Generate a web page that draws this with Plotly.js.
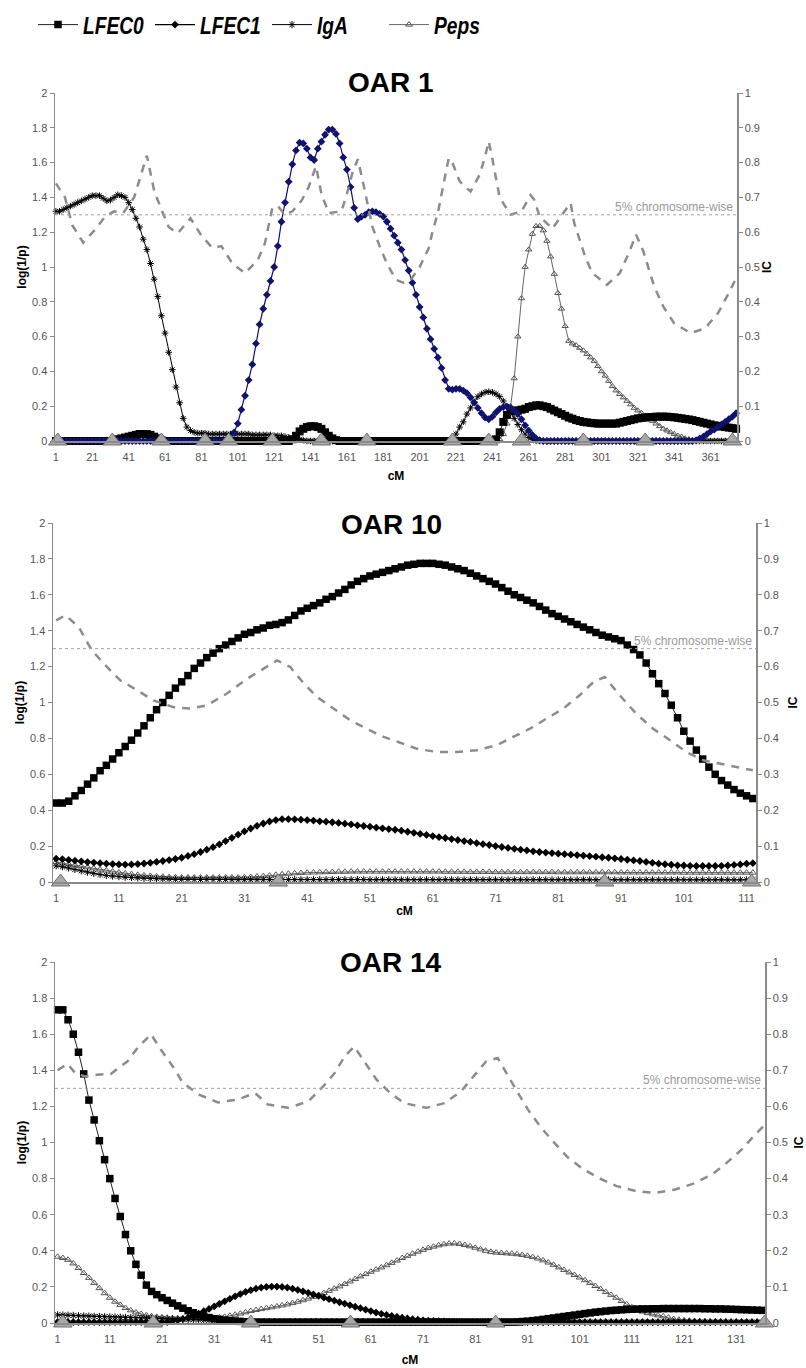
<!DOCTYPE html>
<html><head><meta charset="utf-8">
<script src="https://cdn.plot.ly/plotly-3.0.1.min.js"></script>
<style>
html,body{margin:0;padding:0;background:#fff}
#chart{width:806px;height:1368px}
#chart .legend .legendtext{transform-box:fill-box;transform-origin:0% 50%;transform:scaleX(0.8)}
</style>
</head><body><div id="chart"></div>
<script>
// ---------------- DATA ----------------
const SERIES = ['LFEC0','LFEC1','IgA','Peps'];
const PANEL_TITLES = ['OAR 1','OAR 10','OAR 14'];
const THRESHOLD = 1.3;
const THRESHOLD_LABEL = '5% chromosome-wise';
const MARKER_LEVEL = 0;

function range(a,b,s){const r=[];for(let v=a;v<=b+1e-9;v+=s)r.push(+v.toFixed(3));return r;}

// ---- OAR 1 (cM 1,3,...,375) ----
const P1_CM = range(1,375,2);
const P1_TICKS = range(1,361,20);
const P1_LFEC0 = [
0,0,0,0,0,0,0,0,0,0,
0,0,0,0,0,0,0.005,0.01,0.015,0.02,
0.025,0.03,0.035,0.04,0.04,0.04,0.035,0.025,0.015,0.005,
0,0,0,0,0,0,0,0,0,0,
0,0,0,0,0,0,0,0,0,0,
0,0,0,0,0,0,0,0,0,0,
0,0,0,0,0,0.01,0.03,0.055,0.07,0.08,
0.085,0.085,0.08,0.07,0.05,0.03,0.015,0.005,0,0,
0,0,0,0,0,0,0,0,0,0,
0,0,0,0,0,0,0,0,0,0,
0,0,0,0,0,0,0,0,0,0,
0,0,0,0,0,0,0,0,0,0,
0,0.01,0.05,0.11,0.15,0.17,0.175,0.175,0.18,0.185,
0.195,0.2,0.205,0.205,0.2,0.195,0.185,0.175,0.165,0.155,
0.145,0.135,0.128,0.12,0.115,0.11,0.107,0.104,0.102,0.1,
0.1,0.1,0.1,0.1,0.1,0.105,0.11,0.115,0.12,0.125,
0.13,0.133,0.135,0.137,0.138,0.14,0.14,0.14,0.14,0.138,
0.136,0.133,0.13,0.127,0.124,0.12,0.115,0.11,0.105,0.1,
0.095,0.09,0.087,0.083,0.08,0.077,0.074,0.07];
const P1_LFEC1 = [
0,0,0,0,0,0,0,0,0,0,
0,0,0,0,0,0,0,0,0,0,
0,0,0,0,0,0,0,0,0,0,
0,0,0,0,0,0,0,0,0,0,
0,0,0,0,0,0,0,0,0.01,0.05,
0.1,0.18,0.26,0.35,0.44,0.56,0.67,0.76,0.84,0.92,
1.0,1.12,1.26,1.37,1.49,1.59,1.67,1.715,1.71,1.68,
1.63,1.615,1.68,1.72,1.76,1.79,1.79,1.765,1.71,1.63,
1.56,1.46,1.34,1.275,1.29,1.3,1.315,1.32,1.315,1.305,
1.29,1.26,1.22,1.18,1.14,1.1,1.04,0.98,0.91,0.84,
0.77,0.71,0.645,0.585,0.53,0.48,0.42,0.35,0.3,0.295,
0.3,0.3,0.29,0.275,0.25,0.22,0.19,0.16,0.135,0.125,
0.14,0.165,0.185,0.195,0.197,0.19,0.175,0.155,0.125,0.09,
0.06,0.035,0.015,0.005,0,0,0,0,0,0,
0,0,0,0,0,0,0,0,0,0,
0,0,0,0,0,0,0,0,0,0,
0,0,0,0,0,0,0,0,0,0,
0,0,0,0,0,0,0.005,0.015,0.025,0.04,
0.055,0.065,0.08,0.095,0.11,0.125,0.14,0.16];
const P1_IGA = [
1.32,1.32,1.33,1.34,1.35,1.36,1.37,1.38,1.39,1.4,
1.41,1.41,1.41,1.395,1.38,1.385,1.4,1.415,1.41,1.4,
1.37,1.33,1.28,1.23,1.16,1.1,1.02,0.93,0.83,0.72,
0.62,0.51,0.41,0.31,0.22,0.13,0.08,0.06,0.05,0.045,
0.045,0.045,0.04,0.04,0.04,0.04,0.04,0.04,0.04,0.04,
0.04,0.04,0.04,0.04,0.035,0.035,0.035,0.035,0.035,0.035,
0.03,0.03,0.03,0.025,0.02,0.015,0.01,0.01,0.005,0,
0,0,0,0,0,0,0,0,0,0,
0,0,0,0,0,0,0,0,0,0,
0,0,0,0,0,0,0,0,0,0,
0,0,0,0,0,0,0,0,0,0.01,
0.04,0.08,0.11,0.155,0.19,0.225,0.255,0.27,0.28,0.283,
0.28,0.27,0.255,0.23,0.2,0.17,0.13,0.095,0.065,0.04,
0.02,0.01,0,0,0,0,0,0,0,0,
0,0,0,0,0,0,0,0,0,0,
0,0,0,0,0,0,0,0,0,0,
0,0,0,0,0,0,0,0,0,0,
0,0,0,0,0,0,0,0,0,0,
0,0,0,0,0,0,0,0];
const P1_PEPS = [
0,0,0,0,0,0,0,0,0,0,
0,0,0,0,0,0,0,0,0,0,
0,0,0,0,0,0,0,0,0,0,
0,0,0,0,0,0,0,0,0,0,
0,0,0,0,0,0,0,0,0,0,
0,0,0,0,0,0,0,0,0,0,
0,0,0,0,0,0,0,0,0,0,
0,0,0,0,0,0,0,0,0,0,
0,0,0,0,0,0,0,0,0,0,
0,0,0,0,0,0,0,0,0,0,
0,0,0,0,0,0,0,0,0,0,
0,0,0,0,0,0,0,0,0,0,
0,0,0.01,0.04,0.1,0.2,0.36,0.6,0.82,1.0,
1.1,1.19,1.235,1.235,1.21,1.15,1.06,0.96,0.85,0.76,
0.66,0.575,0.56,0.55,0.535,0.52,0.5,0.48,0.46,0.43,
0.4,0.375,0.345,0.315,0.29,0.27,0.25,0.23,0.21,0.19,
0.175,0.16,0.145,0.13,0.115,0.1,0.085,0.07,0.06,0.05,
0.04,0.03,0.025,0.015,0.01,0.005,0,0,0,0,
0,0,0,0,0,0,0,0];
const P1_IC_CM = [1,6,10,16,23,28,33,38,44,47,51,53,55,59,63,68,75,81,87,92,98,105,112,116,120,123,127,131,136,140,144,147,151,158,161,164,167,170,175,179,183,188,192,196,201,206,208,211,213,215,217,219,223,229,234,237,239,241,243,245,251,257,262,264,267,274,280,284,286,289,292,296,304,311,316,320,324,330,335,341,350,358,365,371,375];
const P1_IC = [0.74,0.7,0.62,0.57,0.61,0.645,0.66,0.655,0.7,0.75,0.82,0.77,0.72,0.665,0.615,0.597,0.64,0.59,0.555,0.56,0.51,0.482,0.52,0.57,0.67,0.675,0.65,0.66,0.69,0.73,0.79,0.71,0.655,0.66,0.71,0.77,0.81,0.74,0.616,0.56,0.51,0.463,0.455,0.463,0.5,0.554,0.6,0.655,0.71,0.765,0.813,0.8,0.746,0.717,0.765,0.818,0.861,0.81,0.755,0.7,0.65,0.66,0.707,0.693,0.645,0.61,0.655,0.684,0.626,0.578,0.53,0.482,0.449,0.482,0.54,0.593,0.545,0.444,0.386,0.338,0.31,0.324,0.367,0.425,0.468];
const P1_MARKERS = [2,32,59,83,96,120,147,172,219,239,257,291,325,373];

// ---- OAR 10 (cM 1..112) ----
const P2_CM = range(1,112,1);
const P2_TICKS = range(1,111,10);
const P2_LFEC0 = [
0.44,0.44,0.45,0.48,0.51,0.545,0.58,0.62,0.65,0.685,
0.72,0.755,0.79,0.83,0.87,0.915,0.96,1.0,1.04,1.08,
1.115,1.15,1.19,1.22,1.25,1.275,1.3,1.32,1.34,1.36,
1.38,1.39,1.405,1.415,1.43,1.435,1.445,1.46,1.485,1.51,
1.525,1.54,1.555,1.575,1.59,1.61,1.63,1.655,1.675,1.69,
1.705,1.715,1.725,1.735,1.745,1.755,1.765,1.77,1.775,1.775,
1.775,1.77,1.765,1.755,1.745,1.735,1.72,1.705,1.69,1.675,
1.66,1.64,1.62,1.6,1.585,1.57,1.555,1.535,1.515,1.495,
1.48,1.465,1.45,1.435,1.42,1.405,1.39,1.375,1.365,1.355,
1.345,1.32,1.295,1.265,1.22,1.16,1.105,1.05,0.985,0.915,
0.84,0.785,0.735,0.685,0.64,0.6,0.565,0.54,0.515,0.495,
0.48,0.465];
const P2_LFEC1 = [
0.13,0.127,0.123,0.119,0.115,0.111,0.108,0.105,0.102,0.1,
0.098,0.097,0.098,0.1,0.103,0.107,0.112,0.117,0.122,0.128,
0.135,0.145,0.155,0.167,0.18,0.194,0.21,0.228,0.246,0.264,
0.282,0.298,0.313,0.326,0.337,0.345,0.35,0.35,0.349,0.347,
0.345,0.342,0.338,0.336,0.333,0.329,0.325,0.321,0.316,0.312,
0.308,0.303,0.299,0.295,0.291,0.286,0.28,0.274,0.268,0.262,
0.256,0.25,0.245,0.239,0.234,0.228,0.223,0.217,0.211,0.206,
0.2,0.195,0.19,0.185,0.18,0.176,0.171,0.167,0.164,0.161,
0.158,0.155,0.152,0.15,0.147,0.144,0.141,0.138,0.135,0.132,
0.128,0.124,0.12,0.117,0.112,0.107,0.102,0.099,0.096,0.093,
0.092,0.09,0.089,0.089,0.089,0.089,0.09,0.092,0.095,0.098,
0.102,0.105];
const P2_IGA = [
0.09,0.085,0.078,0.07,0.062,0.055,0.048,0.042,0.037,0.033,
0.03,0.027,0.025,0.023,0.021,0.02,0.018,0.017,0.016,0.015,
0.015,0.015,0.014,0.014,0.014,0.014,0.014,0.014,0.013,0.013,
0.013,0.013,0.013,0.013,0.013,0.013,0.013,0.013,0.013,0.013,
0.013,0.013,0.013,0.013,0.013,0.013,0.013,0.013,0.013,0.013,
0.012,0.012,0.012,0.012,0.012,0.012,0.012,0.012,0.012,0.012,
0.012,0.012,0.012,0.012,0.012,0.012,0.012,0.012,0.012,0.012,
0.012,0.012,0.012,0.012,0.012,0.012,0.012,0.012,0.012,0.012,
0.012,0.012,0.012,0.012,0.012,0.012,0.012,0.012,0.012,0.012,
0.012,0.012,0.012,0.012,0.012,0.012,0.012,0.012,0.012,0.012,
0.012,0.012,0.012,0.012,0.012,0.012,0.012,0.012,0.012,0.012,
0.012,0.012];
const P2_PEPS = [
0.11,0.105,0.1,0.094,0.088,0.082,0.076,0.07,0.064,0.058,
0.053,0.048,0.044,0.04,0.037,0.034,0.031,0.029,0.027,0.026,
0.025,0.025,0.025,0.025,0.025,0.025,0.025,0.025,0.025,0.025,
0.026,0.028,0.03,0.033,0.036,0.04,0.043,0.046,0.048,0.05,
0.052,0.053,0.054,0.055,0.056,0.057,0.057,0.058,0.058,0.058,
0.058,0.058,0.058,0.058,0.058,0.058,0.058,0.058,0.058,0.058,
0.058,0.058,0.057,0.057,0.057,0.057,0.056,0.056,0.056,0.056,
0.055,0.055,0.055,0.055,0.055,0.055,0.055,0.055,0.055,0.055,
0.054,0.054,0.054,0.054,0.054,0.054,0.054,0.054,0.054,0.054,
0.053,0.053,0.053,0.053,0.053,0.053,0.053,0.053,0.053,0.053,
0.052,0.052,0.052,0.052,0.052,0.052,0.052,0.052,0.052,0.052,
0.052,0.052];
const P2_IC_CM = [1,2.5,4.6,6.7,9.1,11.2,13.9,16.5,19.7,22.4,25,28.2,31.4,34.1,36.2,38.3,40.5,42.6,45.2,47.9,50.5,53.2,55.5,58.5,61.7,64.8,68,71.2,73.8,76.5,79.1,81.8,84.4,86.6,88.4,90.8,93.4,96.1,98.8,101.4,104.1,106.7,109.4,112];
const P2_IC = [0.729,0.743,0.71,0.645,0.599,0.562,0.534,0.506,0.487,0.483,0.492,0.525,0.566,0.594,0.617,0.599,0.552,0.515,0.483,0.45,0.427,0.404,0.39,0.371,0.362,0.362,0.367,0.381,0.404,0.427,0.455,0.483,0.52,0.557,0.571,0.52,0.469,0.427,0.395,0.362,0.339,0.33,0.32,0.311];
const P2_MARKERS = [1.7,36.4,88.4,111.8];

// ---- OAR 14 (cM 1..136) ----
const P3_CM = range(1,136,1);
const P3_TICKS = range(1,131,10);
const P3_LFEC0 = [
1.735,1.735,1.68,1.6,1.5,1.38,1.235,1.125,1.01,0.905,
0.8,0.69,0.59,0.49,0.4,0.325,0.265,0.21,0.175,0.157,
0.14,0.125,0.11,0.095,0.082,0.068,0.057,0.046,0.038,0.03,
0.024,0.02,0.016,0.013,0.011,0.009,0.007,0.006,0.005,0.005,
0.005,0.005,0.005,0.005,0.005,0.005,0.005,0.005,0.005,0.005,
0.005,0.005,0.005,0.005,0.005,0.005,0.005,0.005,0.005,0.005,
0.005,0.005,0.005,0.005,0.005,0.005,0.005,0.005,0.005,0.005,
0.005,0.005,0.005,0.005,0.005,0.005,0.005,0.005,0.005,0.005,
0.005,0.005,0.005,0.005,0.005,0.005,0.005,0.005,0.006,0.008,
0.01,0.013,0.016,0.02,0.024,0.028,0.032,0.036,0.04,0.044,
0.048,0.052,0.056,0.06,0.063,0.066,0.069,0.071,0.073,0.075,
0.076,0.077,0.078,0.078,0.079,0.079,0.08,0.08,0.08,0.08,
0.08,0.08,0.08,0.08,0.079,0.079,0.078,0.078,0.077,0.076,
0.075,0.074,0.073,0.072,0.071,0.07];
const P3_LFEC1 = [
0.005,0.005,0.005,0.005,0.005,0.005,0.005,0.005,0.005,0.005,
0.005,0.005,0.005,0.005,0.005,0.005,0.005,0.005,0.005,0.005,
0.005,0.005,0.01,0.015,0.022,0.03,0.04,0.052,0.065,0.078,
0.092,0.106,0.12,0.134,0.148,0.16,0.172,0.182,0.19,0.196,
0.2,0.202,0.202,0.2,0.196,0.19,0.183,0.175,0.167,0.158,
0.15,0.141,0.132,0.124,0.115,0.107,0.099,0.09,0.082,0.074,
0.066,0.058,0.051,0.045,0.039,0.034,0.029,0.025,0.021,0.018,
0.015,0.013,0.011,0.01,0.009,0.008,0.007,0.006,0.005,0.005,
0.005,0.005,0.005,0.005,0.005,0.005,0.005,0.005,0.005,0.005,
0.005,0.005,0.005,0.005,0.005,0.005,0.005,0.005,0.005,0.005,
0.005,0.005,0.005,0.005,0.005,0.005,0.005,0.005,0.005,0.005,
0.005,0.005,0.005,0.005,0.005,0.005,0.005,0.005,0.005,0.005,
0.005,0.005,0.005,0.005,0.005,0.005,0.005,0.005,0.005,0.005,
0.005,0.005,0.005,0.005,0.005,0.005];
const P3_IGA = [
0.045,0.044,0.043,0.042,0.04,0.039,0.038,0.037,0.036,0.035,
0.034,0.033,0.032,0.031,0.03,0.029,0.028,0.027,0.026,0.025,
0.024,0.023,0.022,0.021,0.02,0.019,0.018,0.017,0.016,0.015,
0.014,0.013,0.012,0.011,0.01,0.009,0.008,0.007,0.006,0.005,
0.004,0.004,0.004,0.004,0.004,0.004,0.004,0.004,0.004,0.004,
0.004,0.004,0.004,0.004,0.004,0.004,0.004,0.004,0.004,0.004,
0.004,0.004,0.004,0.004,0.004,0.004,0.004,0.004,0.004,0.004,
0.004,0.004,0.004,0.004,0.004,0.004,0.004,0.004,0.004,0.004,
0.004,0.004,0.004,0.004,0.004,0.004,0.004,0.004,0.004,0.004,
0.004,0.004,0.004,0.004,0.004,0.004,0.004,0.004,0.004,0.004,
0.004,0.004,0.004,0.004,0.004,0.004,0.004,0.004,0.004,0.004,
0.004,0.004,0.004,0.004,0.004,0.004,0.004,0.004,0.004,0.004,
0.004,0.004,0.004,0.004,0.004,0.004,0.004,0.004,0.004,0.004,
0.004,0.004,0.004,0.004,0.004,0.004];
const P3_PEPS = [
0.367,0.36,0.35,0.33,0.305,0.277,0.25,0.222,0.193,0.165,
0.14,0.118,0.1,0.083,0.07,0.059,0.05,0.043,0.038,0.034,
0.031,0.029,0.027,0.026,0.026,0.026,0.026,0.026,0.026,0.026,
0.026,0.03,0.034,0.04,0.046,0.052,0.059,0.066,0.072,0.077,
0.082,0.087,0.092,0.097,0.103,0.11,0.118,0.126,0.135,0.145,
0.155,0.166,0.178,0.19,0.203,0.216,0.23,0.244,0.258,0.271,
0.284,0.296,0.308,0.32,0.333,0.346,0.36,0.372,0.384,0.395,
0.405,0.415,0.423,0.43,0.436,0.44,0.441,0.438,0.432,0.425,
0.417,0.408,0.4,0.394,0.39,0.388,0.386,0.384,0.381,0.377,
0.372,0.365,0.357,0.347,0.335,0.322,0.308,0.294,0.28,0.266,
0.252,0.237,0.222,0.205,0.188,0.172,0.156,0.14,0.122,0.104,
0.087,0.074,0.063,0.055,0.048,0.042,0.037,0.03,0.022,0.018,
0.015,0.013,0.011,0.01,0.009,0.008,0.008,0.007,0.007,0.006,
0.006,0.006,0.005,0.005,0.005,0.005];
const P3_IC_CM = [1,2.9,4.5,6.4,8.6,11.2,14.4,16.3,18.9,20.8,23.1,25,28.2,31.7,35.5,38.8,41.3,45.2,49,51.6,54.1,56,57.8,59.9,62.1,64.7,67.4,71.6,75.1,78.3,80.5,83.1,85.3,87.3,89.2,91.1,93.4,95.9,98.5,101.4,104.6,108.1,111.9,115.4,119.3,122.8,126.3,128.8,132,134.6,136.2];
const P3_IC = [0.7,0.718,0.69,0.683,0.688,0.69,0.725,0.762,0.8,0.757,0.71,0.665,0.632,0.611,0.619,0.637,0.605,0.596,0.614,0.651,0.693,0.739,0.766,0.72,0.674,0.637,0.609,0.596,0.609,0.642,0.679,0.725,0.734,0.683,0.637,0.591,0.545,0.503,0.462,0.429,0.402,0.379,0.365,0.36,0.37,0.386,0.411,0.439,0.48,0.522,0.545];
const P3_MARKERS = [2,19.3,38,57.1,84.9,136.4];

// ---------------- STYLE / LAYOUT ----------------
const W = 806, H = 1368;
const xd = (l, r) => [l / W, r / W];
const yd = (t, b) => [1 - b / H, 1 - t / H];
const AX = '#8a8a8a';
const TICK_FONT = {family:'Liberation Sans, Arial, sans-serif', size:11, color:'#555'};
const AXT_FONT = {family:'Liberation Sans, Arial, sans-serif', size:12, color:'#000', weight:'bold'};

const panels = [
  {cm:P1_CM, lfec0:P1_LFEC0, lfec1:P1_LFEC1, iga:P1_IGA, peps:P1_PEPS, icCm:P1_IC_CM, ic:P1_IC, markers:P1_MARKERS,
   ticks:P1_TICKS, xr:[0.5,375.5], xdom:xd(55,737), ydom:yd(93,441), c1:'#11116e', sq:8, dm:6, sm:5.5,
   title:PANEL_TITLES[0], ty:83, icStand:0, cmStand:10},
  {cm:P2_CM, lfec0:P2_LFEC0, lfec1:P2_LFEC1, iga:P2_IGA, peps:P2_PEPS, icCm:P2_IC_CM, ic:P2_IC, markers:P2_MARKERS,
   ticks:P2_TICKS, xr:[0.5,112.5], xdom:xd(53,756), ydom:yd(523,882), c1:'#000', sq:7.5, dm:6, sm:6,
   title:PANEL_TITLES[1], ty:524, icStand:10, cmStand:4},
  {cm:P3_CM, lfec0:P3_LFEC0, lfec1:P3_LFEC1, iga:P3_IGA, peps:P3_PEPS, icCm:P3_IC_CM, ic:P3_IC, markers:P3_MARKERS,
   ticks:P3_TICKS, xr:[0.5,136.5], xdom:xd(55,765), ydom:yd(962,1323), c1:'#000', sq:7.5, dm:6, sm:6,
   title:PANEL_TITLES[2], ty:962, icStand:13, cmStand:12}
];

const traces = [];
const layout = {
  width:W, height:H, margin:{l:0,r:0,t:0,b:0}, paper_bgcolor:'#fff', plot_bgcolor:'rgba(0,0,0,0)',
  showlegend:true,
  legend:{orientation:'h', x:33/W, xanchor:'left', y:1-25/H, yanchor:'middle',
    font:{family:'Liberation Sans, Arial, sans-serif', size:24, color:'#000', weight:'bold', style:'italic'},
    itemwidth:40, entrywidth:62, entrywidthmode:'pixels', bgcolor:'rgba(0,0,0,0)', itemclick:false, itemdoubleclick:false},
  shapes:[], annotations:[]
};

panels.forEach((p, i) => {
  const n = i + 1;
  const xa = n === 1 ? 'x' : 'x' + n;
  const yl = n === 1 ? 'y' : 'y' + (2*n - 1);
  const yr = 'y' + (2*n);
  const leg = (i === 1);
  traces.push(
    {name:SERIES[3], legendgroup:SERIES[3], legendrank:4, showlegend:leg, x:p.cm, y:p.peps, xaxis:xa, yaxis:yl, mode:'lines+markers', cliponaxis:false,
     line:{color:'#666', width:1}, marker:{symbol:'triangle-up-open', size:p.sm, color:'#555', line:{color:'#555', width:1}}},
    {name:SERIES[2], legendgroup:SERIES[2], legendrank:3, showlegend:leg, x:p.cm, y:p.iga, xaxis:xa, yaxis:yl, mode:'lines+markers', cliponaxis:false,
     line:{color:'#000', width:1}, marker:{symbol:'asterisk-open', size:p.sm, color:'#000', line:{color:'#000', width:1}}},
    {name:SERIES[0], legendgroup:SERIES[0], legendrank:1, showlegend:leg, x:p.cm, y:p.lfec0, xaxis:xa, yaxis:yl, mode:'lines+markers', cliponaxis:false,
     line:{color:'#222', width:1}, marker:{symbol:'square', size:p.sq, color:'#000'}},
    {name:SERIES[1], legendgroup:SERIES[1], legendrank:2, showlegend:leg, x:p.cm, y:p.lfec1, xaxis:xa, yaxis:yl, mode:'lines+markers', cliponaxis:false,
     line:{color:p.c1, width:1.2}, marker:{symbol:'diamond', size:p.dm, color:p.c1}},
    {name:'IC', showlegend:false, x:p.icCm, y:p.ic, xaxis:xa, yaxis:yr, mode:'lines', cliponaxis:false,
     line:{color:'#8c8c8c', width:2.5, dash:'8px,7px'}},
    {name:'markers', showlegend:false, x:p.markers, y:p.markers.map(() => MARKER_LEVEL), xaxis:xa, yaxis:yr, mode:'markers', cliponaxis:false,
     marker:{symbol:'triangle-up', size:16, color:'#a9a9a9', line:{color:'#707070', width:1}}}
  );
  const xKey = n === 1 ? 'xaxis' : 'xaxis' + n;
  const ylKey = n === 1 ? 'yaxis' : 'yaxis' + (2*n - 1);
  const yrKey = 'yaxis' + (2*n);
  layout[xKey] = {domain:p.xdom, anchor:yl, range:p.xr, tickmode:'array', tickvals:p.ticks, ticktext:p.ticks.map(String),
    showline:true, linecolor:AX, linewidth:1.5, ticks:'outside', ticklen:5, tickcolor:'rgba(0,0,0,0)',
    showgrid:false, zeroline:false, tickfont:TICK_FONT, fixedrange:true,
    title:{text:'cM', font:AXT_FONT, standoff:p.cmStand}};
  layout[ylKey] = {domain:p.ydom, anchor:xa, range:[0,2], tickmode:'linear', tick0:0, dtick:0.2,
    showline:true, linecolor:AX, linewidth:1.5, ticks:'outside', ticklen:4, tickcolor:AX, tickwidth:1,
    showgrid:false, zeroline:false, tickfont:TICK_FONT, fixedrange:true,
    title:{text:'log(1/p)', font:AXT_FONT, standoff:3}};
  layout[yrKey] = {domain:p.ydom, anchor:xa, overlaying:yl, side:'right', range:[0,1], tickmode:'linear', tick0:0, dtick:0.1,
    showline:true, linecolor:AX, linewidth:1.5, ticks:'outside', ticklen:4, tickcolor:AX, tickwidth:1,
    showgrid:false, zeroline:false, tickfont:TICK_FONT, fixedrange:true,
    title:{text:'IC', font:AXT_FONT, standoff:p.icStand}};
  // inner halves of the cross-shaped ticks
  const yiL = 'yaxis' + (6 + 2*n - 1), yiR = 'yaxis' + (6 + 2*n);
  layout[yiL] = {domain:p.ydom, anchor:xa, overlaying:yl, side:'left', range:[0,2], tickmode:'linear', tick0:0, dtick:0.2,
    ticks:'inside', ticklen:4, tickcolor:AX, tickwidth:1, showticklabels:false, showline:false, showgrid:false, zeroline:false, fixedrange:true};
  layout[yiR] = {domain:p.ydom, anchor:xa, overlaying:yl, side:'right', range:[0,1], tickmode:'linear', tick0:0, dtick:0.1,
    ticks:'inside', ticklen:4, tickcolor:AX, tickwidth:1, showticklabels:false, showline:false, showgrid:false, zeroline:false, fixedrange:true};
  layout.shapes.push({type:'line', xref:xa + ' domain', x0:0, x1:1, yref:yl, y0:THRESHOLD, y1:THRESHOLD,
    line:{color:'#a0a0a0', width:1, dash:'dot'}});
  layout.annotations.push({xref:xa + ' domain', x:1, xanchor:'right', yref:yl, y:THRESHOLD, yanchor:'bottom',
    text:THRESHOLD_LABEL, showarrow:false, font:{family:'Liberation Sans, Arial, sans-serif', size:12, color:'#9a9a9a'}, xshift:-2, yshift:-1});
  layout.annotations.push({xref:'paper', yref:'paper', x:391/W, y:1 - p.ty/H, xanchor:'center', yanchor:'middle',
    text:p.title, showarrow:false, font:{family:'Liberation Sans, Arial, sans-serif', size:28, color:'#000', weight:'bold'}});
});

Plotly.newPlot('chart', traces, layout, {displayModeBar:false, staticPlot:true});
</script>
</body></html>
